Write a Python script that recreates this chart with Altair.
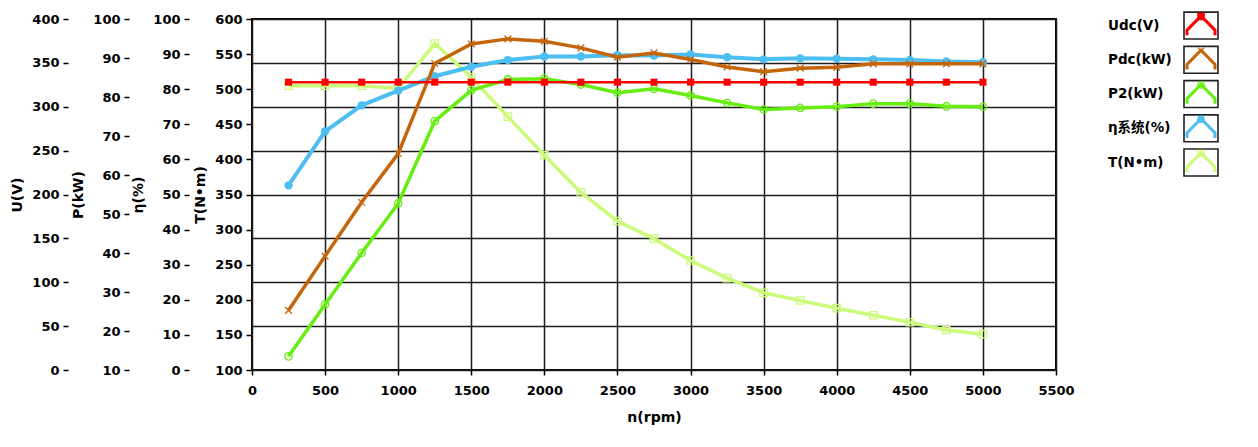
import altair as alt
import pandas as pd

# ---------------- data ----------------
rpm = [250, 500, 750, 1000, 1250, 1500, 1750, 2000, 2250, 2500,
       2750, 3000, 3250, 3500, 3750, 4000, 4250, 4500, 4750, 5000]
udc = [328, 328, 328, 328, 328, 328, 328, 328, 328, 328,
       328, 328, 328, 328, 328, 328, 328, 328, 328, 328]
pdc = [25.3, 39.2, 53.0, 65.5, 88.6, 93.6, 94.9, 94.3, 92.6, 90.2,
       91.3, 89.6, 87.7, 86.5, 87.4, 87.6, 88.5, 88.5, 88.5, 88.5]
p2 = [13.5, 26.8, 40.0, 52.7, 73.8, 81.7, 84.5, 84.7, 83.2, 81.1,
      82.1, 80.4, 78.5, 76.8, 77.2, 77.5, 78.3, 78.3, 77.6, 77.5]
eta = [52.6, 68.0, 75.4, 79.6, 83.7, 86.4, 88.3, 89.3, 89.3, 89.7,
       89.6, 89.9, 89.1, 88.5, 88.8, 88.7, 88.5, 88.3, 87.9, 87.7]
torque = [505, 505, 505, 501, 565, 517, 461, 406, 353, 312,
          287, 256, 231, 210, 199, 188, 178, 168, 157, 151]

x_ticks = [0, 500, 1000, 1500, 2000, 2500, 3000, 3500, 4000, 4500, 5000, 5500]
u_ticks = [0, 50, 100, 150, 200, 250, 300, 350, 400]
p_ticks = [10, 20, 30, 40, 50, 60, 70, 80, 90, 100]
eta_ticks = [0, 10, 20, 30, 40, 50, 60, 70, 80, 90, 100]
t_ticks = [100, 150, 200, 250, 300, 350, 400, 450, 500, 550, 600]

series_names = ["Udc(V)", "Pdc(kW)", "P2(kW)", "η系统(%)", "T(N•m)"]
series_colors = ["#ff0000", "#c5650b", "#66ee11", "#4cbef2", "#ccfa7a"]
series_fills = ["#ff0000", "transparent", "transparent", "#4cbef2", "transparent"]
series_shapes = ["square", "M-1,-1L1,1M-1,1L1,-1", "circle", "circle", "square"]
series_index = [0, 1, 2, 3, 4]

df = pd.DataFrame({"rpm": rpm, "udc": udc, "pdc": pdc, "p2": p2,
                   "eta": eta, "torque": torque})

FONT = "DejaVu Sans, Noto Sans CJK SC"
GRID = "#1e1e1e"

x_enc = alt.X(
    "rpm:Q",
    scale=alt.Scale(domain=[0, 5500], nice=False, zero=False),
    axis=alt.Axis(
        values=x_ticks, format="d", title="n(rpm)", grid=True, gridColor=GRID,
        gridWidth=1.5, gridOpacity=1, domain=False, tickColor="black", tickSize=5,
        tickWidth=1.5, labelPadding=9, titlePadding=13, labelFont=FONT,
        labelFontSize=13, labelFontWeight="bold", labelColor="black",
        titleFont=FONT, titleFontSize=14, titleFontWeight="bold",
        titleColor="black", labelFlush=False, labelOverlap=False,
    ),
)


def y_axis(title, values, offset, grid=False):
    return alt.Axis(
        title=title, values=values, orient="left", offset=offset, grid=grid,
        gridColor=GRID, gridWidth=1.5, gridOpacity=1, domain=False,
        tickColor="black", tickSize=5, tickWidth=1.5, labelPadding=4,
        titlePadding=7, labelFont=FONT, labelFontSize=13, labelFontWeight="bold",
        labelColor="black", titleFont=FONT, titleFontSize=14,
        titleFontWeight="bold", titleColor="black", labelFlush=False,
        labelOverlap=False,
    )


base = alt.Chart(df)

t_layer = base.mark_line(
    color=series_colors[4], strokeWidth=3.5,
    point=alt.OverlayMarkDef(shape="square", filled=False, size=55,
                             color=series_colors[4], strokeWidth=1.3),
).encode(
    x=x_enc,
    y=alt.Y("torque:Q", scale=alt.Scale(domain=[100, 600], nice=False, zero=False),
            axis=y_axis("T(N•m)", t_ticks, 1)),
)

p2_layer = base.mark_line(
    color=series_colors[2], strokeWidth=3.5,
    point=alt.OverlayMarkDef(shape="circle", filled=False, size=55,
                             color=series_colors[2], strokeWidth=1.3),
).encode(
    x=x_enc,
    y=alt.Y("p2:Q", scale=alt.Scale(domain=[10, 100], nice=False, zero=False),
            axis=None),
)

eta_layer = base.mark_line(
    color=series_colors[3], strokeWidth=4,
    point=alt.OverlayMarkDef(shape="circle", filled=True, size=70,
                             color=series_colors[3]),
).encode(
    x=x_enc,
    y=alt.Y("eta:Q", scale=alt.Scale(domain=[0, 100], nice=False, zero=False),
            axis=y_axis("η(%)", eta_ticks, 63)),
)

pdc_layer = base.mark_line(
    color=series_colors[1], strokeWidth=3.5,
    point=alt.OverlayMarkDef(shape="M-1,-1L1,1M-1,1L1,-1", filled=False, size=45,
                             color=series_colors[1], strokeWidth=1.3),
).encode(
    x=x_enc,
    y=alt.Y("pdc:Q", scale=alt.Scale(domain=[10, 100], nice=False, zero=False),
            axis=y_axis("P(kW)", p_ticks, 123)),
)

udc_layer = base.mark_line(
    color=series_colors[0], strokeWidth=2.5,
    point=alt.OverlayMarkDef(shape="square", filled=True, size=50,
                             color=series_colors[0]),
).encode(
    x=x_enc,
    y=alt.Y("udc:Q", scale=alt.Scale(domain=[0, 400], nice=False, zero=False),
            axis=y_axis("U(V)", u_ticks, 184, grid=True)),
)

main = alt.layer(
    t_layer, p2_layer, eta_layer, pdc_layer, udc_layer
).resolve_scale(y="independent").properties(
    width=804, height=351,
    view=alt.ViewBackground(stroke="black", strokeWidth=2),
)

# ---------------- custom legend ----------------
leg_df = pd.DataFrame({"name": series_names, "idx": series_index})
leg_y = alt.Y("idx:Q", scale=alt.Scale(domain=[-0.19, 4.832], reverse=True,
                                        nice=False, zero=False), axis=None)
leg_color = alt.Color("name:N", scale=alt.Scale(domain=series_names, range=series_colors),
                      legend=None)

leg_box = alt.Chart(leg_df).mark_point(
    shape="M-1,-0.79L1,-0.79L1,0.79L-1,0.79Z", size=1156, filled=False,
    stroke="#222222", strokeWidth=1.6, opacity=1,
).encode(x=alt.value(102), y=leg_y)

leg_icon = alt.Chart(leg_df).mark_point(
    shape="M-1,0.69L-1,0.33L0,-0.69L1,0.33L1,0.69", size=784,
    filled=False, strokeWidth=3, opacity=1,
).encode(x=alt.value(102), y=leg_y, color=leg_color)

leg_marker = alt.Chart(leg_df).mark_point(
    size=40, strokeWidth=1.3, opacity=1, yOffset=-9,
).encode(
    x=alt.value(102), y=leg_y,
    stroke=alt.Stroke("name:N", scale=alt.Scale(domain=series_names, range=series_colors),
                      legend=None),
    fill=alt.Fill("name:N", scale=alt.Scale(domain=series_names, range=series_fills),
                  legend=None),
    shape=alt.Shape("name:N", scale=alt.Scale(domain=series_names, range=series_shapes),
                    legend=None),
)

leg_text = alt.Chart(leg_df).mark_text(
    align="left", baseline="middle", font=FONT, fontSize=13.5, fontWeight="bold",
    color="black",
).encode(x=alt.value(9), y=leg_y, text="name:N")

legend = alt.layer(leg_box, leg_icon, leg_marker, leg_text).resolve_scale(
    color="independent", stroke="independent", fill="independent", shape="independent"
).properties(
    width=130, height=172, view=alt.ViewBackground(strokeOpacity=0),
)

chart = alt.hconcat(main, legend, spacing=43, bounds="flush").resolve_scale(
    x="independent", y="independent", color="independent"
).configure(background="white",
            padding={"left": 1, "top": 0, "right": 5, "bottom": 5})

chart.save("out.html", embed_options={"renderer": "svg", "actions": False})
